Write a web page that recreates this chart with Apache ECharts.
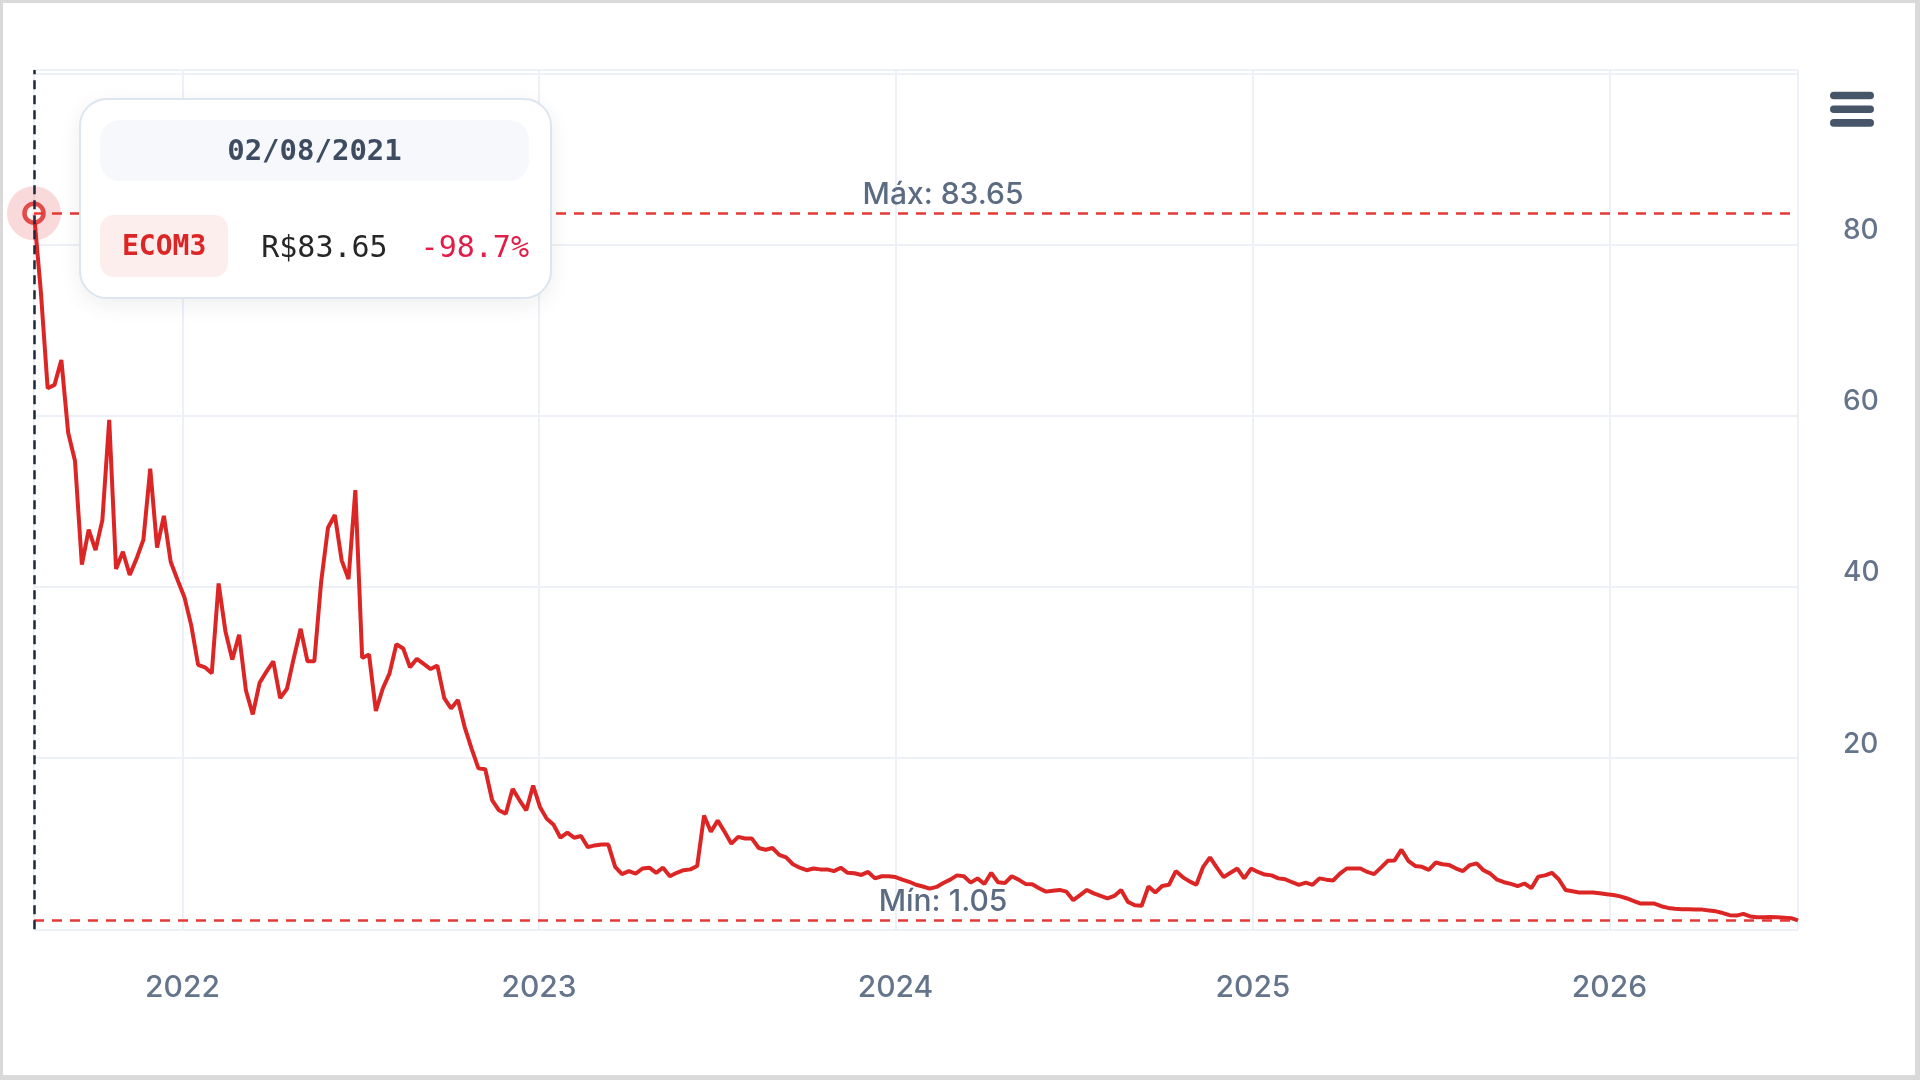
<!DOCTYPE html>
<html>
<head>
<meta charset="utf-8">
<script src="https://cdn.jsdelivr.net/npm/echarts@6/dist/echarts.min.js"></script>
<style>
html,body{margin:0;padding:0;background:#fff;}
#wrap{position:absolute;left:0;top:0;width:1920px;height:1080px;box-sizing:border-box;border-style:solid;border-color:#d9d9d9;border-width:3px 5px 5px 3px;background:#fff;}
#c{width:1912px;height:1072px;}
</style>
</head>
<body>
<div id="wrap"><div id="c"></div></div>
<script>
// ---- data ----
const ticker = 'ECOM3';
const startDate = '2021-08-02';   // first weekly observation
const stepDays = 7;               // weekly series
const prices = [
  83.65, 74.5, 63.2, 63.6, 66.5, 58.0, 54.7, 42.6, 46.7, 44.3,
  47.8, 59.5, 42.1, 44.1, 41.4, 43.3, 45.5, 53.8, 44.6, 48.3,
  42.9, 40.8, 38.8, 35.5, 30.9, 30.6, 29.9, 40.4, 34.8, 31.5,
  34.4, 27.9, 25.1, 28.8, 30.1, 31.3, 27.0, 28.1, 31.7, 35.1,
  31.3, 31.3, 40.6, 46.9, 48.4, 43.1, 40.9, 51.3, 31.7, 32.1,
  25.5, 28.1, 29.9, 33.3, 32.8, 30.6, 31.6, 31.0, 30.4, 30.8,
  27.0, 25.8, 26.8, 23.6, 21.1, 18.8, 18.7, 15.1, 13.9, 13.5,
  16.4, 15.1, 13.9, 16.8, 14.3, 12.9, 12.2, 10.7, 11.3, 10.7,
  10.9, 9.6, 9.8, 9.9, 9.9, 7.3, 6.45, 6.8, 6.5, 7.1,
  7.2, 6.6, 7.2, 6.2, 6.6, 6.9, 7.0, 7.4, 13.3, 11.4,
  12.7, 11.4, 10.0, 10.8, 10.6, 10.6, 9.5, 9.3, 9.5, 8.7,
  8.4, 7.6, 7.2, 6.9, 7.1, 7.0, 7.0, 6.8, 7.2, 6.6,
  6.55, 6.35, 6.7, 5.95, 6.2, 6.2, 6.1, 5.8, 5.55, 5.2,
  5.0, 4.75, 4.95, 5.4, 5.8, 6.3, 6.2, 5.45, 5.95, 5.3,
  6.6, 5.5, 5.4, 6.2, 5.8, 5.3, 5.25, 4.8, 4.4, 4.5,
  4.6, 4.4, 3.4, 4.0, 4.6, 4.2, 3.9, 3.6, 3.9, 4.6,
  3.2, 2.8, 2.75, 5.0, 4.3, 5.05, 5.2, 6.8, 6.1, 5.6,
  5.2, 7.3, 8.4, 7.2, 6.1, 6.6, 7.1, 5.95, 7.1, 6.7,
  6.4, 6.3, 5.95, 5.85, 5.5, 5.2, 5.45, 5.2, 5.95, 5.8,
  5.7, 6.5, 7.1, 7.1, 7.1, 6.7, 6.45, 7.2, 8.0, 8.05,
  9.3, 8.0, 7.4, 7.3, 6.95, 7.8, 7.6, 7.5, 7.1, 6.8,
  7.5, 7.7, 6.9, 6.5, 5.8, 5.5, 5.3, 5.05, 5.35, 4.8,
  6.15, 6.3, 6.6, 5.85, 4.6, 4.45, 4.3, 4.3, 4.3, 4.2,
  4.1, 4.0, 3.85, 3.6, 3.3, 3.0, 3.0, 3.0, 2.7, 2.5,
  2.4, 2.35, 2.35, 2.3, 2.3, 2.2, 2.1, 1.9, 1.65, 1.6,
  1.8, 1.5, 1.4, 1.4, 1.45, 1.4, 1.35, 1.3, 1.05
];
const yTickLabels = [20, 40, 60, 80];
const maxLabel = 'Máx';
const minLabel = 'Mín';
const currency = 'R$';

// ---- build ----
const dates = prices.map(function (_, i) {
  const d = new Date(startDate + 'T00:00:00');
  d.setDate(d.getDate() + i * stepDays);
  return d.getTime();
});
const seriesData = prices.map(function (p, i) { return [dates[i], p]; });

function pad2(n) { return String(n).padStart(2, '0'); }
function fmtDate(t) { const d = new Date(t); return pad2(d.getDate()) + '/' + pad2(d.getMonth() + 1) + '/' + d.getFullYear(); }

const RED = '#dc2626';
const chart = echarts.init(document.getElementById('c'), null, { renderer: 'canvas' });

const option = {
  animation: false,
  grid: { left: 31, right: 117, top: 67, bottom: 145.7, containLabel: false },
  xAxis: {
    type: 'time',
    min: 'dataMin',
    max: 'dataMax',
    minInterval: 365 * 864e5,
    maxInterval: 366 * 864e5,
    axisLine: { show: false },
    axisTick: { show: false },
    splitLine: { show: true, lineStyle: { color: '#edf1f7', width: 2 } },
    axisLabel: {
      margin: 44,
      fontSize: 30,
      fontFamily: 'Inter',
      fontWeight: 500,
      color: '#64748b',
      hideOverlap: false,
      formatter: function (v) {
        const d = new Date(v);
        return (d.getMonth() === 0 && d.getDate() === 1) ? String(d.getFullYear()) : '';
      }
    }
  },
  yAxis: {
    type: 'value',
    position: 'right',
    min: 0,
    max: function (v) { return v.max * 1.2; },
    interval: 20,
    axisLine: { show: false },
    axisTick: { show: false },
    splitLine: { show: true, lineStyle: { color: '#edf1f7', width: 2 } },
    axisLabel: {
      margin: 45,
      align: 'left',
      verticalAlign: 'bottom',
      fontSize: 28,
      fontFamily: 'Inter',
      fontWeight: 500,
      color: '#64748b',
      formatter: function (v) { return yTickLabels.indexOf(v) >= 0 ? String(v) : ''; }
    }
  },
  tooltip: {
    trigger: 'axis',
    triggerOn: 'none',
    alwaysShowContent: true,
    transitionDuration: 0,
    padding: 0,
    borderWidth: 0,
    backgroundColor: 'transparent',
    extraCssText: 'box-shadow:none;border-radius:0;',
    position: [75.5, 95.3],
    axisPointer: {
      type: 'line',
      animation: false,
      lineStyle: { color: '#1e293b', width: 2.5, type: [9, 6] }
    },
    formatter: function (params) {
      const p = params.filter(function (q) { return q.seriesName === ticker; })[0] || params[0];
      const i = p.dataIndex;
      const price = prices[i];
      const last = prices[prices.length - 1];
      const pct = (last - price) / price * 100;
      const pctStr = (pct >= 0 ? '+' : '') + pct.toFixed(1) + '%';
      return '<div style="box-sizing:border-box;width:473px;height:201px;background:#fff;border:2px solid #dde5ef;border-radius:28px;padding:20px 21px 0 19px;box-shadow:0 6px 22px rgba(15,23,42,0.07);font-family:\'DejaVu Sans Mono\',monospace;">' +
        '<div style="height:61px;line-height:61px;border-radius:20px;background:#f6f8fb;text-align:center;font-size:29px;font-weight:bold;color:#3e4c61;">' + fmtDate(dates[i]) + '</div>' +
        '<div style="display:flex;align-items:center;justify-content:space-between;margin-top:34px;height:62px;">' +
          '<span style="display:inline-block;height:62px;line-height:62px;padding:0 22px;border-radius:14px;background:#fdeeee;color:' + RED + ';font-weight:bold;font-size:28px;">' + ticker + '</span>' +
          '<span style="font-size:30px;color:#262626;">' + currency + price.toFixed(2) + '</span>' +
          '<span style="font-size:30px;color:#e11d48;">' + pctStr + '</span>' +
        '</div></div>';
    }
  },
  graphic: [{
    type: 'group', left: 1827, top: 88.7,
    children: [
      { type: 'rect', shape: { x: 0, y: 0, width: 44, height: 7.6, r: 3.8 }, style: { fill: '#475569' } },
      { type: 'rect', shape: { x: 0, y: 13.8, width: 44, height: 7.6, r: 3.8 }, style: { fill: '#475569' } },
      { type: 'rect', shape: { x: 0, y: 27.4, width: 44, height: 7.6, r: 3.8 }, style: { fill: '#475569' } }
    ]
  }],
  series: [
    {
      name: 'halo', type: 'scatter', silent: true, z: 1,
      data: [seriesData[0]],
      symbolSize: 54,
      itemStyle: { color: 'rgba(220,38,38,0.22)' },
      emphasis: { disabled: true },
      tooltip: { show: false }
    },
    {
      name: ticker, type: 'line', z: 2,
      data: seriesData,
      showSymbol: false,
      symbol: 'none',
      lineStyle: { color: RED, width: 4 },
      itemStyle: { color: RED },
      emphasis: { disabled: true },
      markLine: {
        silent: true,
        symbol: ['none', 'none'],
        lineStyle: { color: '#e53935', width: 2.5, type: [10, 8] },
        label: {
          position: 'insideMiddleTop',
          distance: 3,
          fontSize: 30,
          fontFamily: 'Inter',
          fontWeight: 500,
          color: '#5b6b82',
          padding: [0, 0, 0, 54],
          formatter: function (p) { return (p.name === maxLabel ? maxLabel : minLabel) + ': ' + p.value; }
        },
        data: [
          { type: 'max', name: maxLabel },
          { type: 'min', name: minLabel }
        ]
      }
    },
    {
      name: 'ring', type: 'scatter', silent: true, z: 3,
      data: [seriesData[0]],
      symbolSize: 19,
      itemStyle: { color: '#fff', borderColor: RED, borderWidth: 4.5 },
      emphasis: { disabled: true },
      tooltip: { show: false }
    }
  ]
};

chart.setOption(option);
chart.dispatchAction({ type: 'showTip', seriesIndex: 1, dataIndex: 0 });
</script>
</body>
</html>
